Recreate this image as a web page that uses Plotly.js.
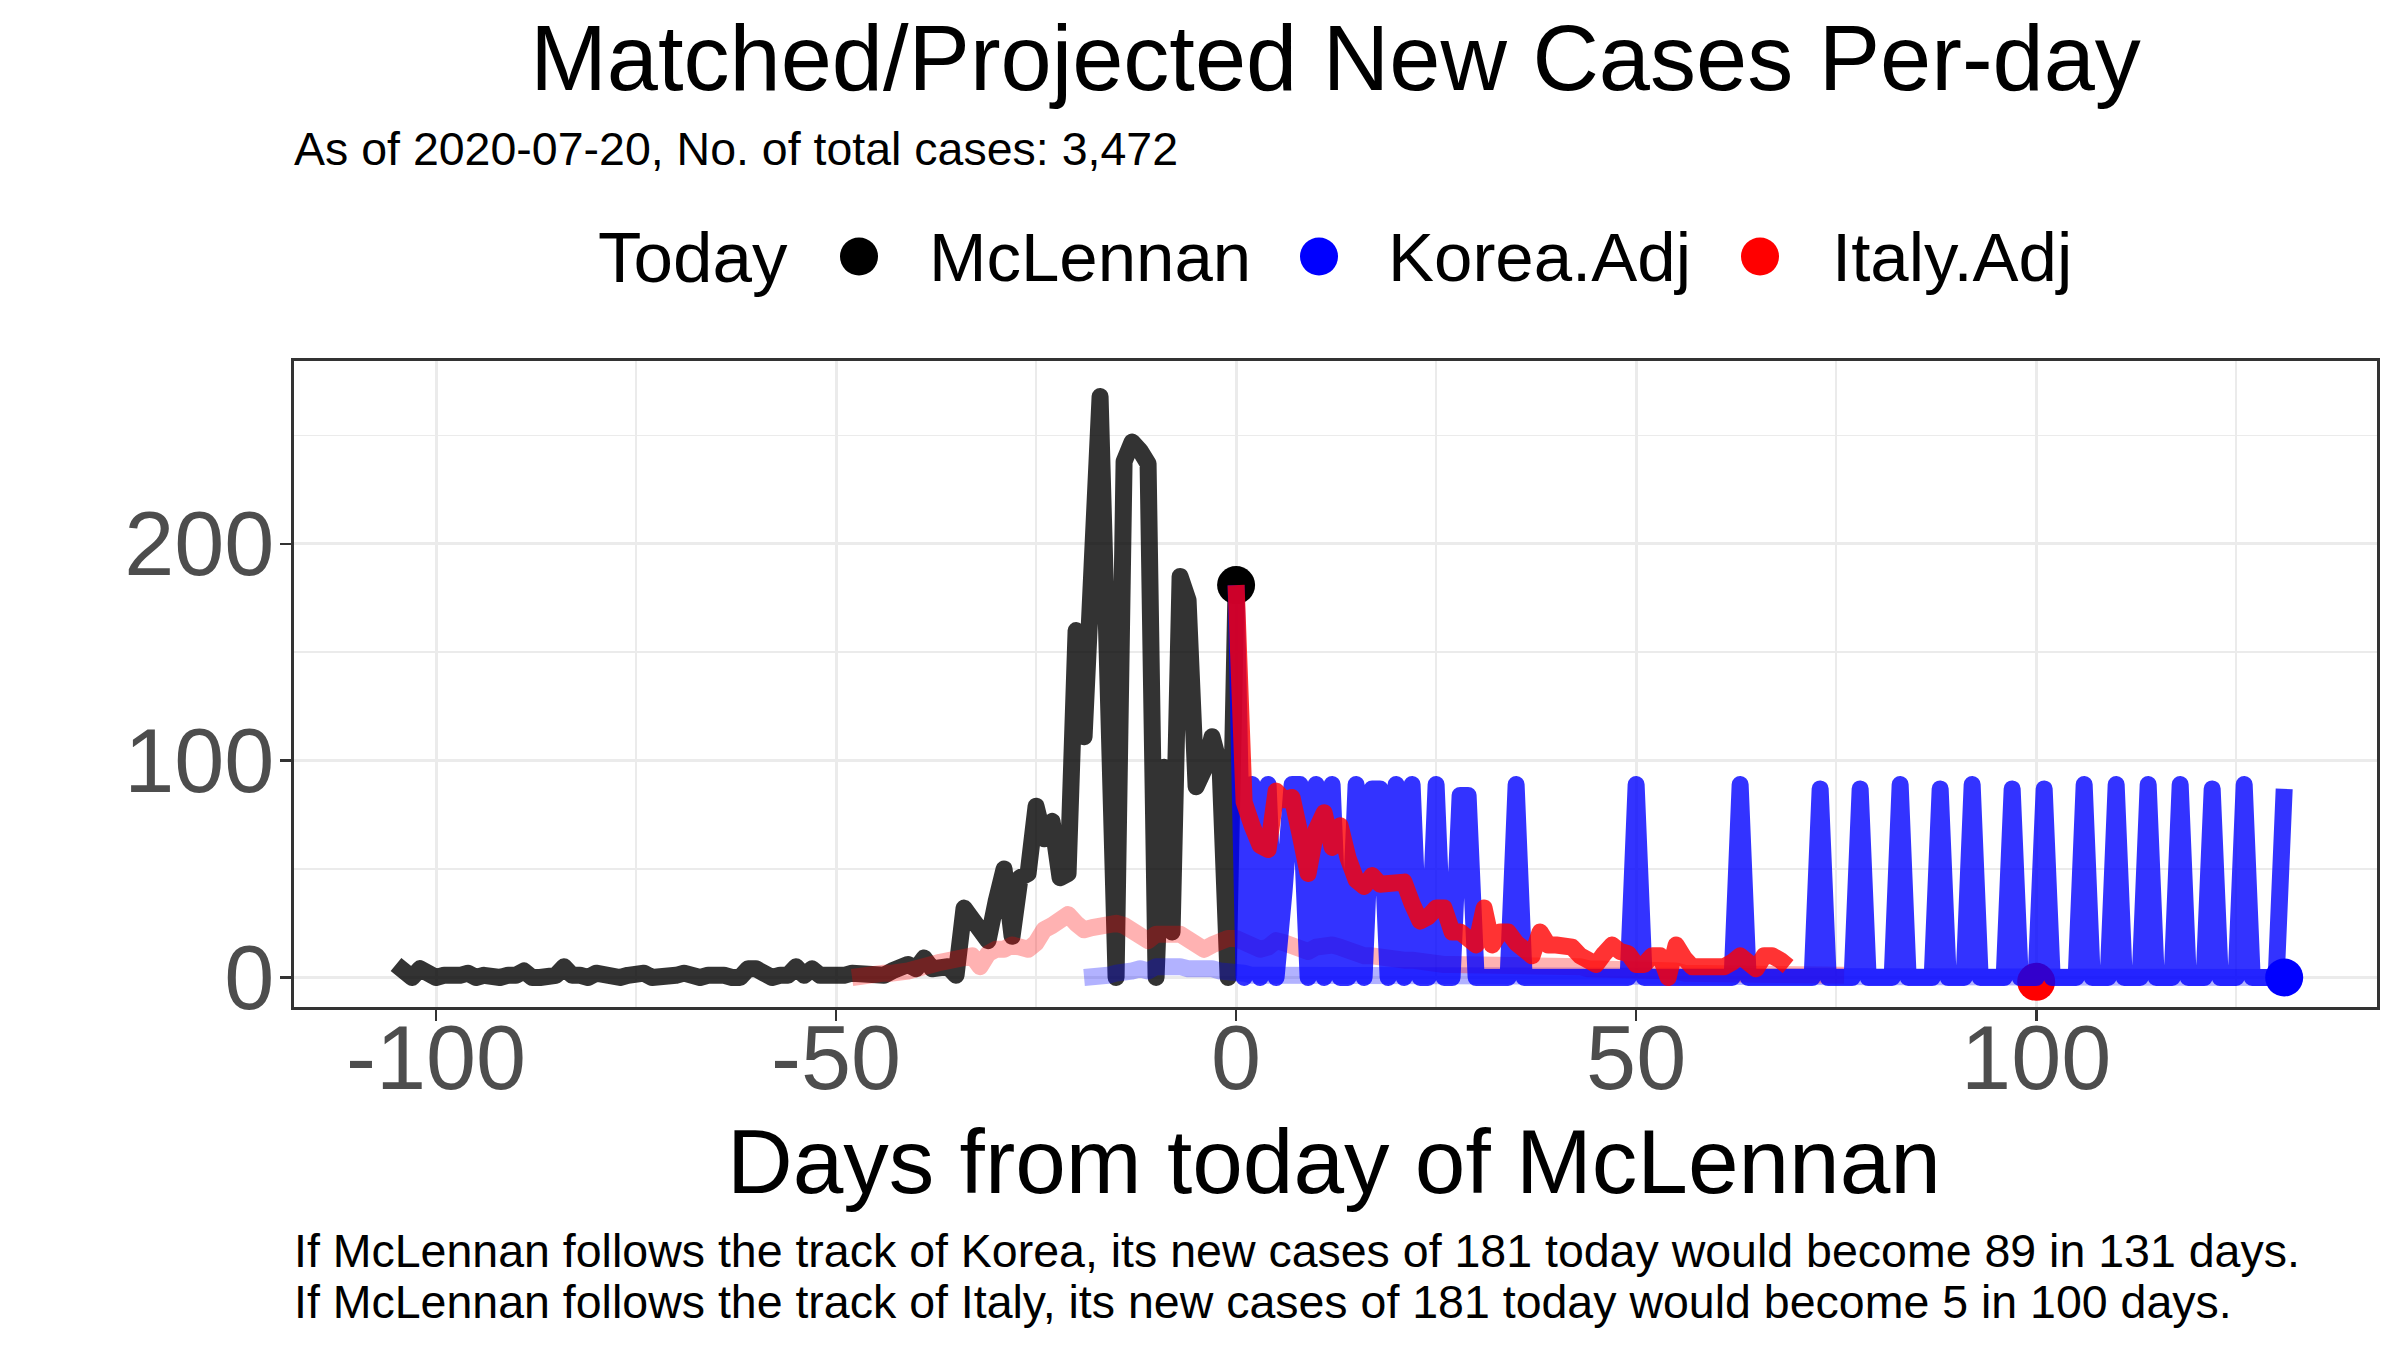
<!DOCTYPE html>
<html>
<head>
<meta charset="utf-8">
<script src="https://cdn.plot.ly/plotly-3.0.1.min.js"></script>
<style>
  html, body { margin: 0; padding: 0; background: #ffffff; }
  #chart { width: 2400px; height: 1350px; }
  /* the original lines are drawn with round joins */
  .scatterlayer .js-line { stroke-linejoin: round; }
</style>
</head>
<body>
<div id="chart"></div>
<script>
// ---- data ----

// McLennan daily new cases, day -105 .. 0
var mclStart = -105;
var mclCases = [
    6, 3, 0, 4, 1, 0, 1, 0, 1, 2,
    0, 1, 0, 0, 1, 1, 3, 0, 0, 1,
    1, 5, 1, 1, 0, 2, 1, 0, 0, 1,
    1, 2, 0, 0, 0, 1, 2, 0, 0, 1,
    2, 1, 0, 0, 4, 4, 2, 0, 1, 1,
    5, 1, 4, 1, 1, 0, 1, 2, 2, 1,
    1, 1, 3, 4, 6, 4, 9, 4, 5, 5,
    1, 32, 27, 21, 17, 35, 50, 19, 46, 48,
    79, 64, 72, 46, 48, 160, 111, 190, 268, 135,
    0, 238, 247, 243, 237, 0, 97, 21, 185, 174,
    88, 96, 111, 97, 0, 181
];

// Italy, matched curve (faint), day -48 .. 76
var italyStart = -48;
var italyCases = [
    0, 1, 1, 1, 2, 2, 2, 3, 4, 6,
    6, 7, 8, 8, 9, 10, 5, 11, 13, 13,
    15, 13, 13, 16, 22, 24, 27, 29, 25, 22,
    23, 24, 26, 25, 24, 22, 19, 17, 20, 21,
    20, 20, 18, 15, 13, 15, 17, 18, 18, 16,
    15, 13, 14, 17, 16, 15, 13, 12, 14, 15,
    15, 14, 12, 11, 10, 10, 9, 8, 8, 8,
    8, 7, 7, 6, 6, 6, 6, 6, 5, 5,
    6, 5, 5, 5, 6, 6, 5, 5, 6, 6,
    5, 5, 4, 4, 4, 4, 3, 3, 3, 3,
    3, 3, 3, 3, 2, 2, 2, 2, 2, 2,
    2, 2, 2, 2, 2, 2, 2, 2, 2, 2,
    1, 1, 1, 1, 1
];

// Korea, matched curve (faint), day -19 .. 131
var koreaStart = -19;
var koreaCases = [
    0, 0, 1, 1, 2, 2, 3, 4, 3, 5,
    5, 6, 5, 4, 4, 5, 4, 3, 3, 2,
    2, 1, 1, 1, 0, 1, 1, 0, 0, 1,
    1, 0, 0, 1, 0, 0, 0, 1, 0, 0,
    0, 0, 1, 0, 0, 0, 0, 0, 1, 0,
    0, 0, 0, 0, 1, 0, 0, 0, 0, 0,
    0, 0, 0, 1, 0, 0, 0, 0, 0, 0,
    0, 0, 0, 0, 0, 1, 0, 0, 0, 0,
    0, 0, 0, 0, 0, 0, 0, 1, 0, 0,
    0, 0, 0, 0, 1, 0, 0, 0, 0, 0,
    0, 0, 0, 0, 0, 0, 1, 0, 0, 0,
    0, 0, 0, 0, 0, 0, 0, 0, 1, 0,
    0, 0, 0, 0, 0, 0, 0, 0, 0, 1,
    0, 0, 0, 0, 0, 0, 0, 0, 0, 0,
    0, 0, 0, 0, 0, 1, 0, 0, 0, 0,
    0
];

// Korea.Adj projection, day 0 .. 131
var koreaAdjStart = 0;
var koreaAdjCases = [
    181, 0, 89, 0, 89, 0, 40, 89, 89, 0,
    89, 0, 89, 0, 0, 89, 0, 87, 87, 0,
    89, 0, 89, 0, 0, 89, 0, 0, 84, 84,
    0, 0, 0, 0, 0, 89, 0, 0, 0, 0,
    0, 0, 0, 0, 0, 0, 0, 0, 0, 0,
    89, 0, 0, 0, 0, 0, 0, 0, 0, 0,
    0, 0, 0, 89, 0, 0, 0, 0, 0, 0,
    0, 0, 0, 87, 0, 0, 0, 0, 87, 0,
    0, 0, 0, 89, 0, 0, 0, 0, 87, 0,
    0, 0, 89, 0, 0, 0, 0, 87, 0, 0,
    0, 87, 0, 0, 0, 0, 89, 0, 0, 0,
    89, 0, 0, 0, 89, 0, 0, 0, 89, 0,
    0, 0, 87, 0, 0, 0, 89, 0, 0, 0,
    0, 87
];

// Italy.Adj projection, day 0 .. 69
var italyAdjStart = 0;
var italyAdjCases = [
    181, 81, 70, 61, 59, 86, 82, 83, 66, 48,
    68, 76, 60, 70, 55, 45, 42, 47, 43, 44,
    44, 44, 34, 26, 28, 32, 32, 21, 21, 17,
    15, 32, 15, 21, 21, 16, 14, 10, 21, 15,
    15, 15, 14, 10, 7, 6, 11, 15, 12, 11,
    6, 6, 10, 10, 0, 15, 9, 5, 5, 5,
    5, 5, 7, 10, 7, 4, 10, 10, 8, 5
];

// "Today" points
var todayDays = [0, 100, 131];
var todayCases = [181, -2, 0];

var seriesNames = ["McLennan", "Korea.Adj", "Italy.Adj"];
var seriesColors = ["#000000", "#0000FF", "#FF0000"];

var xTickVals = [-100, -50, 0, 50, 100];
var xTickText = ["-100", "-50", "0", "50", "100"];
var yTickVals = [0, 100, 200];
var yTickText = ["0", "100", "200"];

var titleText = "Matched/Projected New Cases Per-day";
var subtitleText = "As of 2020-07-20, No. of total cases: 3,472";
var xTitleText = "Days from today of McLennan";
var captionLines = [
    "If McLennan follows the track of Korea, its new cases of 181 today would become 89 in 131 days.",
    "If McLennan follows the track of Italy, its new cases of 181 today would become 5 in 100 days."
];

// ---- helpers ----
function dayRange(start, n) {
    var d = [];
    for (var i = 0; i < n; i++) d.push(start + i);
    return d;
}

function lineTrace(start, values, color) {
    return {
        type: 'scatter',
        mode: 'lines',
        x: dayRange(start, values.length),
        y: values,
        line: { color: color, width: 17 },
        hoverinfo: 'skip',
        showlegend: false
    };
}

// page geometry (px)
var W = 2400, H = 1350;
var ML = 294, MR = 23, MT = 361, MB = 343;
var PW = W - ML - MR, PH = H - MT - MB;
function px(p) { return (p - ML) / PW; }
function py(p) { return (H - MB - p) / PH; }

var FONT = 'Liberation Sans, Arial, sans-serif';

// ---- traces, in drawing order ----
var traces = [];
traces.push(lineTrace(mclStart, mclCases, 'rgba(0,0,0,0.8)'));
traces.push(lineTrace(koreaStart, koreaCases, 'rgba(0,0,255,0.3)'));
traces.push(lineTrace(italyStart, italyCases, 'rgba(255,0,0,0.3)'));
traces.push({
    type: 'scatter',
    mode: 'markers',
    x: todayDays.slice(0, 2),
    y: todayCases.slice(0, 2),
    marker: { size: 38, color: [seriesColors[0], seriesColors[2]], line: { width: 0 } },
    hoverinfo: 'skip',
    showlegend: false
});
traces.push(lineTrace(koreaAdjStart, koreaAdjCases, 'rgba(0,0,255,0.8)'));
traces.push(lineTrace(italyAdjStart, italyAdjCases, 'rgba(255,0,0,0.8)'));
traces.push({
    type: 'scatter',
    mode: 'markers',
    x: todayDays.slice(2),
    y: todayCases.slice(2),
    marker: { size: 38, color: seriesColors[1], line: { width: 0 } },
    hoverinfo: 'skip',
    showlegend: false
});

// ---- hand made legend (big dots like the original) ----
var legendDotX = [859, 1319, 1760];
var legendTextX = [929, 1388, 1832];
var legendY = 256.5;
var shapes = [];
var annotations = [];
for (var i = 0; i < seriesNames.length; i++) {
    shapes.push({
        type: 'circle',
        xref: 'paper', yref: 'paper',
        xsizemode: 'pixel', ysizemode: 'pixel',
        xanchor: px(legendDotX[i]), yanchor: py(legendY),
        x0: -19, x1: 19, y0: -19, y1: 19,
        fillcolor: seriesColors[i],
        line: { width: 0 }
    });
    annotations.push({
        text: seriesNames[i],
        xref: 'paper', yref: 'paper',
        x: px(legendTextX[i] - 2), y: py(258),
        xanchor: 'left', yanchor: 'middle',
        showarrow: false,
        font: { family: FONT, size: 69, color: '#000000' }
    });
}
annotations.push({
    text: 'Today',
    xref: 'paper', yref: 'paper',
    x: px(596), y: py(258),
    xanchor: 'left', yanchor: 'middle',
    showarrow: false,
    font: { family: FONT, size: 71, color: '#000000' }
});

// subtitle, x axis title and captions
annotations.push({
    text: subtitleText,
    xref: 'paper', yref: 'paper',
    x: px(292), y: py(149),
    xanchor: 'left', yanchor: 'middle',
    showarrow: false,
    font: { family: FONT, size: 46.5, color: '#000000' }
});
annotations.push({
    text: xTitleText,
    xref: 'paper', yref: 'paper',
    x: px(1334), y: py(1161),
    xanchor: 'center', yanchor: 'middle',
    showarrow: false,
    font: { family: FONT, size: 91, color: '#000000' }
});
var captionY = [1250.6, 1302];
for (var j = 0; j < captionLines.length; j++) {
    annotations.push({
        text: captionLines[j],
        xref: 'paper', yref: 'paper',
        x: px(292), y: py(captionY[j]),
        xanchor: 'left', yanchor: 'middle',
        showarrow: false,
        font: { family: FONT, size: 46.5, color: '#000000' }
    });
}

var gridColor = '#EBEBEB';
var axisCommon = {
    ticks: 'outside',
    ticklen: 11,
    tickwidth: 2.7,
    tickcolor: '#333333',
    tickfont: { family: FONT, size: 90, color: '#4D4D4D' },
    tickmode: 'array',
    showgrid: true,
    gridcolor: gridColor,
    gridwidth: 3,
    showline: true,
    mirror: true,
    linecolor: '#333333',
    linewidth: 2.7,
    zeroline: false,
    fixedrange: true
};

var layout = {
    width: W,
    height: H,
    margin: { l: ML, r: MR, t: MT, b: MB, pad: 0 },
    paper_bgcolor: '#ffffff',
    plot_bgcolor: '#ffffff',
    font: { family: FONT, color: '#000000' },
    showlegend: false,
    title: {
        text: titleText,
        font: { family: FONT, size: 92, color: '#000000' },
        xref: 'paper', x: 0.5, xanchor: 'center',
        yref: 'container', y: 1 - 57.8 / H, yanchor: 'middle'
    },
    xaxis: Object.assign({}, axisCommon, {
        range: [-117.75, 142.6],
        tickvals: xTickVals,
        ticktext: xTickText,
        ticklabelstandoff: -40,
        minor: { dtick: 25, tick0: 0, showgrid: true, gridcolor: gridColor, gridwidth: 1.6, ticks: '' }
    }),
    yaxis: Object.assign({}, axisCommon, {
        range: [-13.61, 284.36],
        tickvals: yTickVals,
        ticktext: yTickText,
        ticklabelstandoff: -12,
        minor: { dtick: 50, tick0: 0, showgrid: true, gridcolor: gridColor, gridwidth: 1.6, ticks: '' }
    }),
    shapes: shapes,
    annotations: annotations
};

Plotly.newPlot('chart', traces, layout, { displayModeBar: false, staticPlot: true }).then(function (gd) {
    // make sure the joins are round even if a style sheet is ignored
    var paths = gd.querySelectorAll('.scatterlayer .js-line');
    for (var k = 0; k < paths.length; k++) {
        paths[k].style.strokeLinejoin = 'round';
    }
});
</script>
</body>
</html>
